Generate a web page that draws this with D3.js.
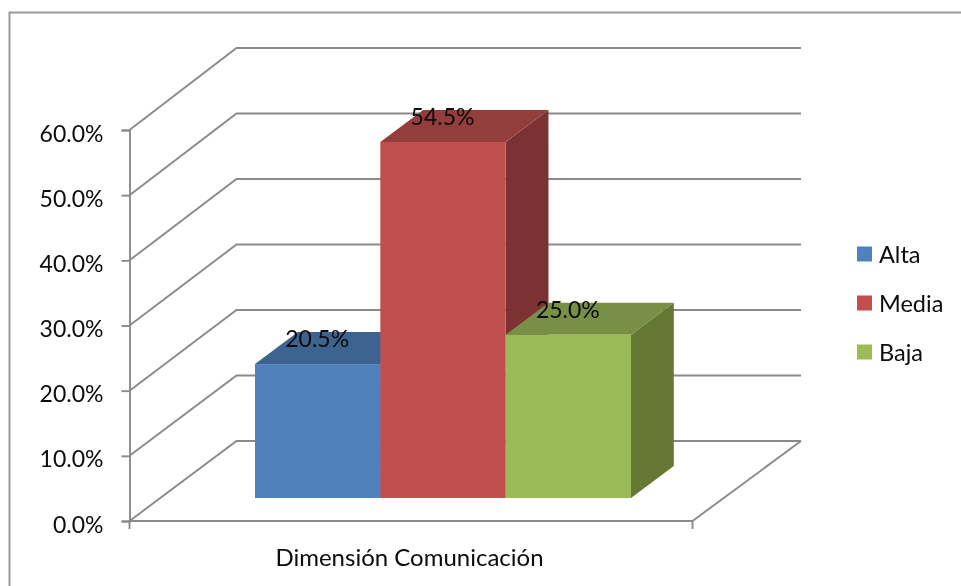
<!DOCTYPE html>
<html><head><meta charset="utf-8">
<script src="https://cdn.jsdelivr.net/npm/d3@7/dist/d3.min.js"></script>
<style>html,body{margin:0;padding:0;background:#fff}svg{display:block}text{font-family:Lato,"Open Sans",sans-serif;fill:#0a0a0a}</style>
</head><body><div id="chart"></div>
<script>
const categories = ["Dimensión Comunicación"];
const seriesNames = ["Alta","Media","Baja"];
const seriesValues = [20.5,54.5,25.0];
const seriesFront = ["#4f81bd","#c0504d","#9bbb59"];
const seriesTop = ["#3e6390","#943e3c","#788f45"];
const seriesSide = ["#335379","#7b3230","#657935"];
const yTicks = [0,10,20,30,40,50,60];

const W=961,H=586;
const svg=d3.select("#chart").append("svg").attr("width",W).attr("height",H);
const defs=svg.append("defs");
defs.append("filter").attr("id","soft").attr("x","-5%").attr("y","-5%").attr("width","110%").attr("height","110%")
  .append("feGaussianBlur").attr("stdDeviation",0.4);
const root=svg.append("g").attr("filter","url(#soft)");
const axisCol="#8a8a8a";

root.append("rect").attr("x",0).attr("y",0).attr("width",W).attr("height",H).attr("fill","#fff");
root.append("rect").attr("x",9.5).attr("y",12.5).attr("width",W+20).attr("height",H+20)
  .attr("fill","none").attr("stroke","#9a9a9a").attr("stroke-width",2);

const y=d3.scaleLinear().domain([0,60]).range([521,130]);
const yBack=d3.scaleLinear().domain([0,60]).range([441,48]);
const x0=d3.scaleBand().domain(categories).range([129.5,692.5]);
const backX=236.5, backXEnd=801;

const grid=root.append("g").attr("fill","none").attr("stroke",axisCol).attr("stroke-width",1.9);
yTicks.forEach(t=>{
  grid.append("path").attr("d",d3.line()([
    [x0.range()[0],y(t)],[backX,yBack(t)],[backXEnd,yBack(t)]
  ]));
});
grid.append("path").attr("d",d3.line()([[x0.range()[1],y(0)],[backXEnd,yBack(0)]]));

const axisL=d3.axisLeft(y).tickValues(yTicks).tickSize(8).tickPadding(18).tickFormat(d=>d.toFixed(1)+"%");
const gy=root.append("g").attr("transform","translate(129.5,0)").call(axisL);
gy.selectAll("path,line").attr("stroke",axisCol).attr("stroke-width",1.9);
gy.selectAll("text").attr("font-size",23).attr("fill","#0a0a0a").attr("dy","0.48em");

const axisB=d3.axisBottom(x0).tickSize(0).tickPadding(35);
const gx=root.append("g").attr("transform","translate(-1.5,521)").call(axisB);
gx.select("path").attr("stroke",axisCol).attr("stroke-width",1.9).attr("d","M131,8V0H694V8");
gx.selectAll("text").attr("font-size",24).attr("fill","#0a0a0a").attr("dy","0.42em");

// bars: front plane sits partway into the floor
const depthX=backX-x0.range()[0], depthY=yBack(0)-y(0);
const t0=0.2875, t1=0.6875;
const x1=d3.scaleBand().domain(seriesNames).range([255,631]);
const base=y(0)+depthY*t0;
const barDx=depthX*(t1-t0), barDy=depthY*(t1-t0);
const h=d3.scaleLinear().domain([0,60]).range([0,392]);
const bars=root.append("g").selectAll("g").data(seriesNames).join("g");
bars.each(function(n,i){
  const g=d3.select(this), xL=x1(n), w=x1.bandwidth(), top=base-h(seriesValues[i]);
  g.append("polygon").attr("fill",seriesSide[i]).attr("points",[[xL+w,top],[xL+w+barDx,top+barDy],[xL+w+barDx,base+barDy],[xL+w,base]].join(" "));
  g.append("polygon").attr("fill",seriesTop[i]).attr("points",[[xL,top],[xL+barDx,top+barDy],[xL+w+barDx,top+barDy],[xL+w,top]].join(" "));
  g.append("rect").attr("fill",seriesFront[i]).attr("x",xL).attr("y",top).attr("width",w).attr("height",base-top);
});
bars.append("text").attr("text-anchor","middle").attr("font-size",23)
  .attr("x",n=>x1(n)+x1.bandwidth()/2-0.5)
  .attr("y",(n,i)=>base-h(seriesValues[i])-17)
  .text((n,i)=>seriesValues[i].toFixed(1)+"%");

const legY=d3.scalePoint().domain(seriesNames).range([254,352]);
const leg=root.append("g").selectAll("g").data(seriesNames).join("g");
leg.append("rect").attr("x",857).attr("y",n=>legY(n)-7.5).attr("width",15).attr("height",15).attr("fill",(n,i)=>seriesFront[i]);
leg.append("text").attr("x",879).attr("y",n=>legY(n)+8.5).attr("font-size",23.5).text(n=>n);
</script></body></html>
